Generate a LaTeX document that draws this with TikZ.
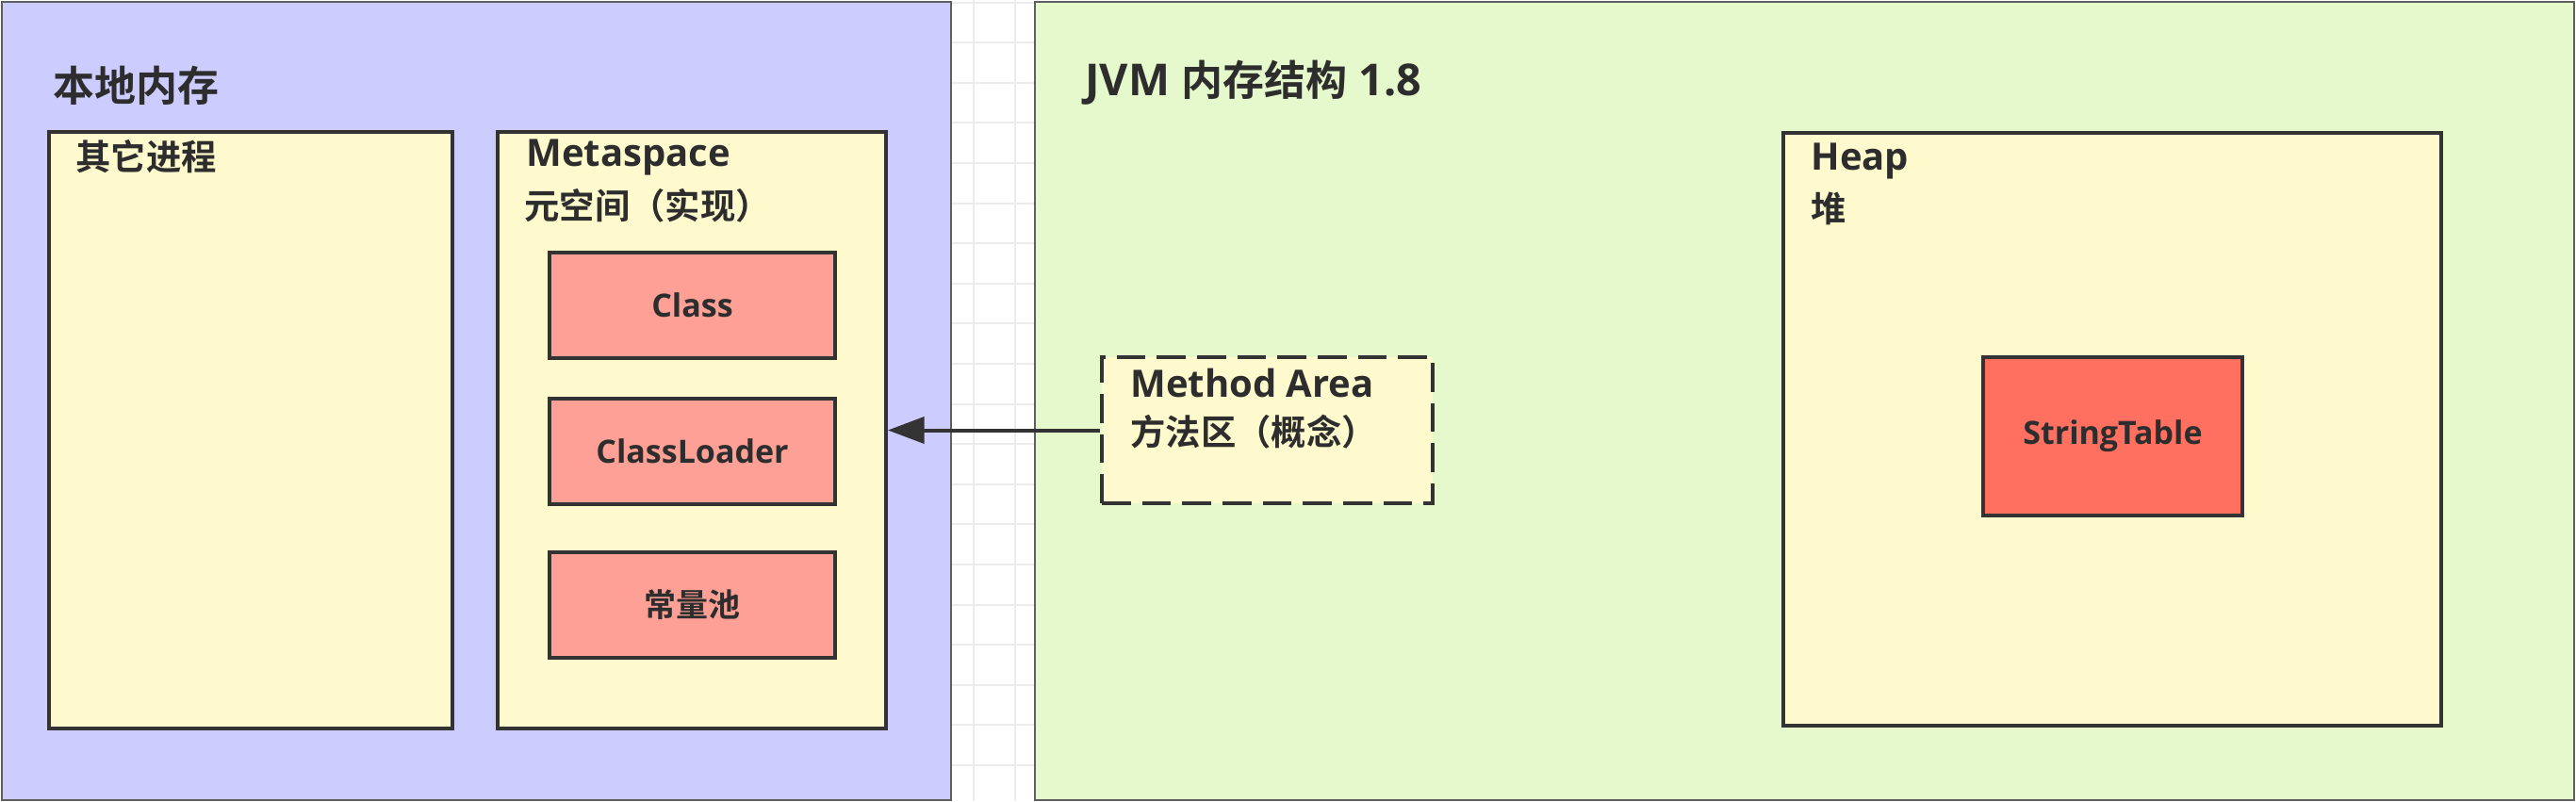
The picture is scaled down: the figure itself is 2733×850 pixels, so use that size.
\documentclass[tikz,border=0pt]{standalone}
\usepackage{fontspec}
\setmainfont{Open Sans}
\newfontfamily\cjk{Noto Sans CJK SC}[BoldFont={Noto Sans CJK SC Bold}]
\usetikzlibrary{arrows.meta}

\definecolor{localblue}{RGB}{204,204,255}
\definecolor{jvmgreen}{RGB}{230,249,204}
\definecolor{areayellow}{RGB}{255,250,205}
\definecolor{itemred}{RGB}{255,160,150}
\definecolor{tablered}{RGB}{255,112,96}
\definecolor{edgegrey}{RGB}{51,51,51}
\definecolor{framegrey}{RGB}{95,95,95}
\definecolor{gridgrey}{RGB}{236,236,236}
\definecolor{inkgrey}{RGB}{45,45,45}

\tikzset{every picture/.style={line width=0.75pt}}
\tikzset{
  panel/.style={draw=framegrey, line width=1.5pt, anchor=north west, inner sep=0pt, minimum height=635.25pt},
  region/.style={draw=edgegrey, line width=3pt, fill=areayellow, anchor=north west, inner sep=0pt},
  item/.style={region, fill=itemred, minimum width=227.25pt, minimum height=84pt, text=inkgrey, font=\bfseries\fontsize{25.5}{30}\selectfont},
  title/.style={anchor=west, inner sep=0.75pt, text=inkgrey, font=\bfseries\fontsize{33}{40}\selectfont},
  label/.style={anchor=west, inner sep=0.75pt, text=inkgrey, font=\bfseries\fontsize{28}{34}\selectfont},
  labelL/.style={label, font=\bfseries\fontsize{30}{36}\selectfont},
  gridline/.style={draw=gridgrey, line width=1.5pt},
  flow/.style={draw=edgegrey, line width=3pt, -{Triangle[length=29pt,width=21pt]}}
}

\begin{document}
\begin{tikzpicture}[x=0.75pt,y=0.75pt,yscale=-1,xscale=1]
\useasboundingbox (0,0) rectangle (2733,850);

%Background grid
\fill[white] (0,0) rectangle (2733,850);
\foreach \gy in {2.6,45.2,...,850} \draw[gridline] (1008,\gy) -- (1097,\gy);
\foreach \gx in {1033,1077} \draw[gridline] (\gx,0) -- (\gx,850);

%Shape: Rectangle [local memory]
\node[panel, fill=localblue, minimum width=755.25pt] (local) at (1,1) {};
%Shape: Rectangle [jvm]
\node[panel, fill=jvmgreen, minimum width=1224.75pt] (jvm) at (1097,1) {};

%Shape: Rectangle [other processes]
\node[region, minimum width=321pt, minimum height=474.75pt] (other) at (50,138) {};
%Shape: Rectangle [metaspace]
\node[region, minimum width=309pt, minimum height=474.75pt] (meta) at (526,138) {};
%Shape: Rectangle [class]
\node[item] (cls) at (581,266) {Class};
%Shape: Rectangle [class loader]
\node[item] (loader) at (581,421) {ClassLoader};
%Shape: Rectangle [constant pool]
\node[item] (pool) at (581,584) {\cjk 常量池};

%Shape: Rectangle [method area]
\node[region, dash pattern=on 23pt off 9pt, minimum width=263.25pt, minimum height=116.25pt] (ma) at (1167,377) {};
%Shape: Rectangle [heap]
\node[region, minimum width=523.5pt, minimum height=471.75pt] (heap) at (1890,139) {};
%Shape: Rectangle [string table]
\node[item, fill=tablered, minimum width=206.25pt, minimum height=126pt] (strtab) at (2102,377) {StringTable};

%Straight Lines [method area -> metaspace]
\draw[flow] (ma.west) -- (meta.east);

% Text Node
\draw (55,91) node [title] (localT) {\cjk 本地内存};
% Text Node
\draw (1150,88) node [title] (jvmT) {\fontsize{35}{40}\selectfont JVM {\cjk\fontsize{33}{40}\selectfont 内存结构} 1.8};
% Text Node
\draw (79,166) node [label] (otherT) {\cjk 其它进程};
% Text Node
\draw (557,167) node [labelL] (metaT) {Metaspace};
% Text Node
\draw (555,218) node [label] (metaS) {\cjk 元空间（实现）};
% Text Node
\draw (1198,406) node [labelL] (maT) {Method Area};
% Text Node
\draw (1198,458) node [label] (maS) {\cjk 方法区（概念）};
% Text Node
\draw (1920,171) node [labelL] (heapT) {Heap};
% Text Node
\draw (1920,221) node [label] (heapS) {\cjk 堆};
\end{tikzpicture}
\end{document}
